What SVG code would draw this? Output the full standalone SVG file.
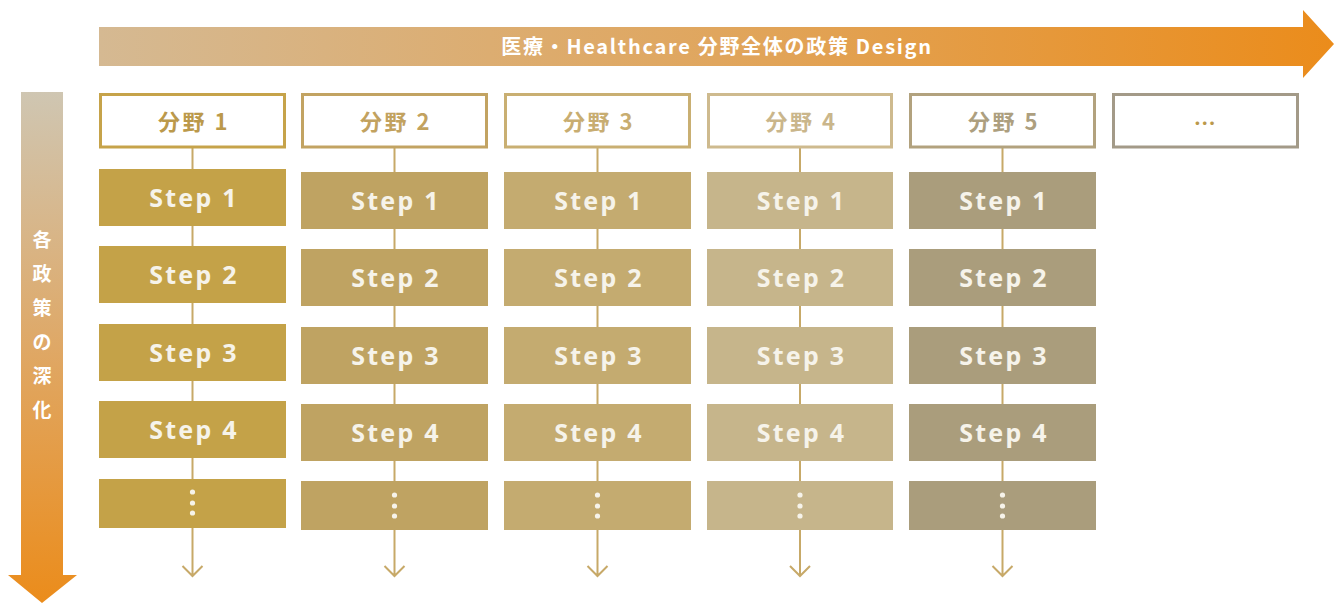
<svg xmlns="http://www.w3.org/2000/svg" width="1340" height="603" viewBox="0 0 1340 603">
<defs>
<linearGradient id="gH" x1="0" y1="0" x2="1" y2="0"><stop offset="0" stop-color="#d5b992"/><stop offset="0.5" stop-color="#e0a65e"/><stop offset="1" stop-color="#eb8c1b"/></linearGradient>
<linearGradient id="gV" x1="0" y1="0" x2="0" y2="1"><stop offset="0" stop-color="#cfc6b2"/><stop offset="0.5" stop-color="#dfa866"/><stop offset="1" stop-color="#eb8c1b"/></linearGradient>
<style>
.hdr{fill:#fff;stroke-width:3}
.ht{font-family:"Noto Sans CJK JP","Noto Sans",sans-serif;font-weight:700;font-size:22px;letter-spacing:2.5px;text-anchor:middle}
.st{font-family:"Noto Sans","Noto Sans CJK JP",sans-serif;font-weight:700;font-size:25px;letter-spacing:2.2px;text-anchor:middle;fill:#f6f3ea}
.ln{stroke:#c7a968;stroke-width:2;fill:none}
.dot{fill:#f6f3ea}
.wt{font-family:"Noto Sans CJK JP","Noto Sans",sans-serif;font-weight:700;fill:#fff}
</style>
</defs>
<g id="top-arrow">
<path d="M99 27 H1303 V10 L1334 44 L1303 78 V66 H99 Z" fill="url(#gH)"/>
<text class="wt" x="717" y="54" font-size="20" text-anchor="middle" letter-spacing="1.7">医療・Healthcare 分野全体の政策 Design</text>
</g>
<g id="side-arrow">
<path d="M21 92 H63 V575 H77 L42 603 L8 575 H21 Z" fill="url(#gV)"/>
<g class="wt" font-size="19" text-anchor="middle">
<text x="42" y="247">各</text>
<text x="42" y="281">政</text>
<text x="42" y="315">策</text>
<text x="42" y="349">の</text>
<text x="42" y="383">深</text>
<text x="42" y="417">化</text>
</g>
</g>
<g id="connectors">
<path class="ln" d="M192.5 148 V576 M182.5 566 L192.5 576 L202.5 566"/>
<path class="ln" d="M394.5 148 V576 M384.5 566 L394.5 576 L404.5 566"/>
<path class="ln" d="M597.5 148 V576 M587.5 566 L597.5 576 L607.5 566"/>
<path class="ln" d="M800 148 V576 M790 566 L800 576 L810 566"/>
<path class="ln" d="M1002.5 148 V576 M992.5 566 L1002.5 576 L1012.5 566"/>
</g>
<g id="col1">
<rect class="hdr" x="100.5" y="94.5" width="184" height="52.5" stroke="#c6a34a"/>
<text class="ht" x="194" y="129.5" fill="#bb994b">分野 1</text>
<g fill="#c4a248">
<rect x="99" y="169" width="187" height="57"/><rect x="99" y="246" width="187" height="57"/><rect x="99" y="324" width="187" height="57"/><rect x="99" y="401" width="187" height="57"/><rect x="99" y="479" width="187" height="49"/>
</g>
<text class="st" x="194" y="206.5">Step 1</text><text class="st" x="194" y="283.5">Step 2</text><text class="st" x="194" y="361.5">Step 3</text><text class="st" x="194" y="438.5">Step 4</text>
<circle class="dot" cx="192.5" cy="492" r="2.6"/><circle class="dot" cx="192.5" cy="503" r="2.6"/><circle class="dot" cx="192.5" cy="513" r="2.6"/>
</g>
<g id="col2">
<rect class="hdr" x="302.5" y="94.5" width="184" height="52.5" stroke="#c2a362"/>
<text class="ht" x="396" y="129.5" fill="#c2a25f">分野 2</text>
<g fill="#bfa362">
<rect x="301" y="172" width="187" height="57"/><rect x="301" y="249" width="187" height="57"/><rect x="301" y="327" width="187" height="57"/><rect x="301" y="404" width="187" height="57"/><rect x="301" y="481" width="187" height="49"/>
</g>
<text class="st" x="396" y="209.5">Step 1</text><text class="st" x="396" y="286.5">Step 2</text><text class="st" x="396" y="364.5">Step 3</text><text class="st" x="396" y="441.5">Step 4</text>
<circle class="dot" cx="394.5" cy="495" r="2.6"/><circle class="dot" cx="394.5" cy="506" r="2.6"/><circle class="dot" cx="394.5" cy="516" r="2.6"/>
</g>
<g id="col3">
<rect class="hdr" x="505.5" y="94.5" width="184" height="52.5" stroke="#c9af72"/>
<text class="ht" x="599" y="129.5" fill="#c8ad71">分野 3</text>
<g fill="#c4ab70">
<rect x="504" y="172" width="187" height="57"/><rect x="504" y="249" width="187" height="57"/><rect x="504" y="327" width="187" height="57"/><rect x="504" y="404" width="187" height="57"/><rect x="504" y="481" width="187" height="49"/>
</g>
<text class="st" x="599" y="209.5">Step 1</text><text class="st" x="599" y="286.5">Step 2</text><text class="st" x="599" y="364.5">Step 3</text><text class="st" x="599" y="441.5">Step 4</text>
<circle class="dot" cx="597.5" cy="495" r="2.6"/><circle class="dot" cx="597.5" cy="506" r="2.6"/><circle class="dot" cx="597.5" cy="516" r="2.6"/>
</g>
<g id="col4">
<rect class="hdr" x="708.5" y="94.5" width="183" height="52.5" stroke="#ceba8e"/>
<text class="ht" x="801.5" y="129.5" fill="#cab68b">分野 4</text>
<g fill="#c6b58b">
<rect x="707" y="172" width="186" height="57"/><rect x="707" y="249" width="186" height="57"/><rect x="707" y="327" width="186" height="57"/><rect x="707" y="404" width="186" height="57"/><rect x="707" y="481" width="186" height="49"/>
</g>
<text class="st" x="801.5" y="209.5">Step 1</text><text class="st" x="801.5" y="286.5">Step 2</text><text class="st" x="801.5" y="364.5">Step 3</text><text class="st" x="801.5" y="441.5">Step 4</text>
<circle class="dot" cx="800" cy="495" r="2.6"/><circle class="dot" cx="800" cy="506" r="2.6"/><circle class="dot" cx="800" cy="516" r="2.6"/>
</g>
<g id="col5">
<rect class="hdr" x="910.5" y="94.5" width="184" height="52.5" stroke="#b2a27e"/>
<text class="ht" x="1004" y="129.5" fill="#ad9f7f">分野 5</text>
<g fill="#aa9d7c">
<rect x="909" y="172" width="187" height="57"/><rect x="909" y="249" width="187" height="57"/><rect x="909" y="327" width="187" height="57"/><rect x="909" y="404" width="187" height="57"/><rect x="909" y="481" width="187" height="49"/>
</g>
<text class="st" x="1004" y="209.5">Step 1</text><text class="st" x="1004" y="286.5">Step 2</text><text class="st" x="1004" y="364.5">Step 3</text><text class="st" x="1004" y="441.5">Step 4</text>
<circle class="dot" cx="1002.5" cy="495" r="2.6"/><circle class="dot" cx="1002.5" cy="506" r="2.6"/><circle class="dot" cx="1002.5" cy="516" r="2.6"/>
</g>
<g id="col6">
<rect class="hdr" x="1113.5" y="94.5" width="184" height="52.5" stroke="#a39a88"/>
<text class="ht" x="1206" y="131" fill="#bb994b" letter-spacing="0">…</text>
</g>
</svg>
